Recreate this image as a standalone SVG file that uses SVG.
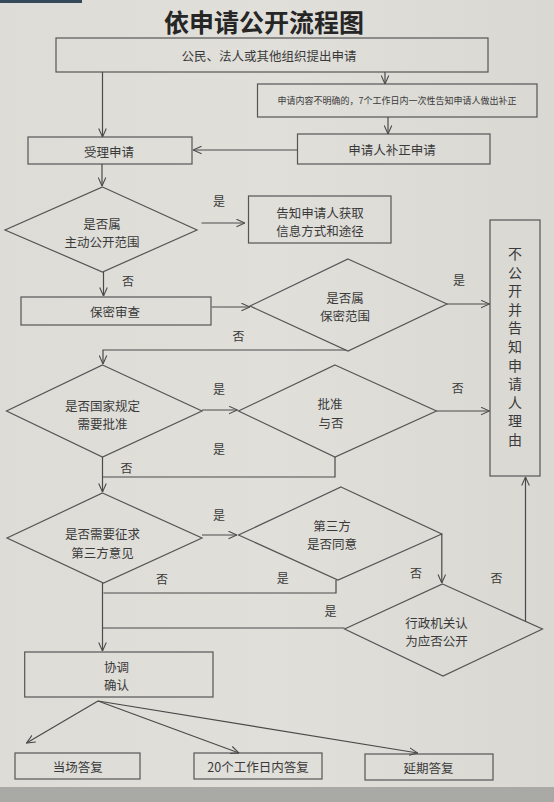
<svg xmlns="http://www.w3.org/2000/svg" width="554" height="802" viewBox="0 0 554 802">
<defs>
<linearGradient id="bg" x1="0" y1="0" x2="1" y2="0">
<stop offset="0" stop-color="#dddcd7"/>
<stop offset="0.5" stop-color="#e0dfda"/>
<stop offset="1" stop-color="#d9d8d3"/>
</linearGradient>
<marker id="ah" viewBox="0 0 10 10" refX="9.5" refY="5" markerWidth="9" markerHeight="9" markerUnits="userSpaceOnUse" orient="auto">
<path d="M0,0.8 L9.5,5 L0,9.2" fill="none" stroke="#4a4a4a" stroke-width="1.2"/>
</marker>
</defs>
<style>
.box{fill:none;stroke:#555;stroke-width:1.2}
.dia{fill:none;stroke:#555;stroke-width:1.2}
.ln{fill:none;stroke:#4a4a4a;stroke-width:1.2}
.ar{fill:none;stroke:#4a4a4a;stroke-width:1.2;marker-end:url(#ah)}
text{font-family:"Noto Sans CJK SC","Noto Sans",sans-serif;fill:#3a3a3a;text-anchor:middle;dominant-baseline:central}
.t{font-size:12.5px}
.s{font-size:9px}
.lb{font-size:12px}
.v{font-size:14px}
.title{font-size:25px;font-weight:bold;fill:#262626}
</style>
<rect x="0" y="0" width="554" height="802" fill="url(#bg)"/>
<rect x="0" y="0" width="82" height="3" fill="#35495a"/>
<rect x="0" y="787" width="554" height="15" fill="#a9a9a5"/>

<text class="title" x="264" y="21">依申请公开流程图</text>

<g id="n-apply">
<rect class="box" x="56" y="38" width="432" height="34"/>
<text class="t" x="269" y="55">公民、法人或其他组织提出申请</text>
</g>
<g id="n-notify-correct">
<rect class="box" x="257.5" y="84" width="279.5" height="33"/>
<text class="s" x="397" y="100.5">申请内容不明确的，7个工作日内一次性告知申请人做出补正</text>
</g>
<g id="n-correct">
<rect class="box" x="297.5" y="134" width="192.5" height="30"/>
<text class="t" x="392" y="149">申请人补正申请</text>
</g>
<g id="n-accept">
<rect class="box" x="28" y="137" width="164" height="27"/>
<text class="t" x="109" y="151">受理申请</text>
</g>
<g id="n-active">
<polygon class="dia" points="102.5,187 197,230 102.5,272 5,230"/>
<text class="t" x="102" y="223">是否属</text>
<text class="t" x="102" y="241">主动公开范围</text>
</g>
<g id="n-inform-way">
<rect class="box" x="248.5" y="196" width="142.5" height="47"/>
<text class="t" x="320" y="212">告知申请人获取</text>
<text class="t" x="320" y="230">信息方式和途径</text>
</g>
<g id="n-secrecy-review">
<rect class="box" x="21" y="297" width="190" height="28"/>
<text class="t" x="115" y="311">保密审查</text>
</g>
<g id="n-secrecy">
<polygon class="dia" points="348,259 447,304 348,351 250,306"/>
<text class="t" x="345" y="297">是否属</text>
<text class="t" x="345" y="315">保密范围</text>
</g>
<g id="n-refuse">
<rect class="box" x="490" y="220" width="50" height="256"/>
<text class="v" x="515" y="253">不</text>
<text class="v" x="515" y="271.6">公</text>
<text class="v" x="515" y="290.2">开</text>
<text class="v" x="515" y="308.8">并</text>
<text class="v" x="515" y="327.4">告</text>
<text class="v" x="515" y="346">知</text>
<text class="v" x="515" y="364.6">申</text>
<text class="v" x="515" y="383.2">请</text>
<text class="v" x="515" y="401.8">人</text>
<text class="v" x="515" y="420.4">理</text>
<text class="v" x="515" y="439">由</text>
</g>
<g id="n-need-approve">
<polygon class="dia" points="102.5,365 202,411 102.5,457 6.5,411"/>
<text class="t" x="102.5" y="405">是否国家规定</text>
<text class="t" x="102.5" y="423">需要批准</text>
</g>
<g id="n-approve">
<polygon class="dia" points="335,365 436.5,411 335,457 238.5,411"/>
<text class="t" x="330" y="403">批准</text>
<text class="t" x="331" y="422">与否</text>
</g>
<g id="n-need-third">
<polygon class="dia" points="102.5,493 202,538 103.5,583 7,538"/>
<text class="t" x="102.5" y="533">是否需要征求</text>
<text class="t" x="102.5" y="552">第三方意见</text>
</g>
<g id="n-third-agree">
<polygon class="dia" points="341,487 441.8,534 338,580 238.5,535"/>
<text class="t" x="332" y="525">第三方</text>
<text class="t" x="332" y="543">是否同意</text>
</g>
<g id="n-agency">
<polygon class="dia" points="442.5,584 542.5,629 443,676 344.6,629"/>
<text class="t" x="436.5" y="622">行政机关认</text>
<text class="t" x="436.5" y="640">为应否公开</text>
</g>
<g id="n-coordinate">
<rect class="box" x="24.7" y="652" width="188.3" height="45"/>
<text class="t" x="116.6" y="666">协调</text>
<text class="t" x="116.6" y="684">确认</text>
</g>
<g id="n-reply-now">
<rect class="box" x="15" y="753" width="125" height="26"/>
<text class="t" x="77.7" y="766">当场答复</text>
</g>
<g id="n-reply-20">
<rect class="box" x="194" y="753" width="128" height="26"/>
<text class="t" x="258" y="766">20个工作日内答复</text>
</g>
<g id="n-reply-later">
<rect class="box" x="365" y="754" width="128" height="26"/>
<text class="t" x="428.6" y="767">延期答复</text>
</g>

<g id="connectors">
<line class="ar" x1="102.5" y1="72" x2="102.5" y2="137"/>
<line class="ar" x1="385" y1="72" x2="385" y2="84"/>
<line class="ar" x1="388" y1="117" x2="388" y2="134"/>
<line class="ar" x1="297" y1="150" x2="193" y2="150"/>
<line class="ar" x1="102" y1="164" x2="102" y2="186"/>
<line class="ar" x1="201.5" y1="223" x2="245" y2="223"/>
<line class="ar" x1="103.5" y1="272" x2="103.5" y2="296"/>
<line class="ar" x1="211.7" y1="307" x2="250" y2="307"/>
<line class="ar" x1="447" y1="304" x2="489.5" y2="304"/>
<polyline class="ar" points="346,350 103,350 103,364"/>
<line class="ar" x1="202" y1="410" x2="237.5" y2="410"/>
<line class="ar" x1="436.5" y1="411" x2="489.5" y2="411"/>
<polyline class="ln" points="335,457 335,477 102.5,477"/>
<line class="ar" x1="102.5" y1="457" x2="102.5" y2="492"/>
<line class="ar" x1="202" y1="535" x2="237" y2="535"/>
<polyline class="ar" points="441.8,534 441.8,583"/>
<polyline class="ln" points="336,580 336,593 103.5,593"/>
<line class="ln" x1="344.6" y1="628" x2="102.5" y2="628"/>
<line class="ar" x1="525.5" y1="621.4" x2="525.5" y2="477"/>
<line class="ar" x1="102.5" y1="583" x2="102.5" y2="651"/>
<line class="ar" x1="98" y1="701" x2="26.5" y2="743"/>
<line class="ar" x1="98" y1="701" x2="239" y2="753"/>
<line class="ar" x1="98" y1="701" x2="417.7" y2="753"/>
</g>

<g id="labels">
<text class="lb" x="219" y="200">是</text>
<text class="lb" x="128" y="280">否</text>
<text class="lb" x="459" y="279">是</text>
<text class="lb" x="238.5" y="335">否</text>
<text class="lb" x="219" y="388">是</text>
<text class="lb" x="457.7" y="387">否</text>
<text class="lb" x="219" y="448">是</text>
<text class="lb" x="126.5" y="467">否</text>
<text class="lb" x="219" y="514">是</text>
<text class="lb" x="416" y="572">否</text>
<text class="lb" x="162" y="578">否</text>
<text class="lb" x="282.7" y="577">是</text>
<text class="lb" x="330.4" y="610">是</text>
<text class="lb" x="496.5" y="577">否</text>
</g>
</svg>
